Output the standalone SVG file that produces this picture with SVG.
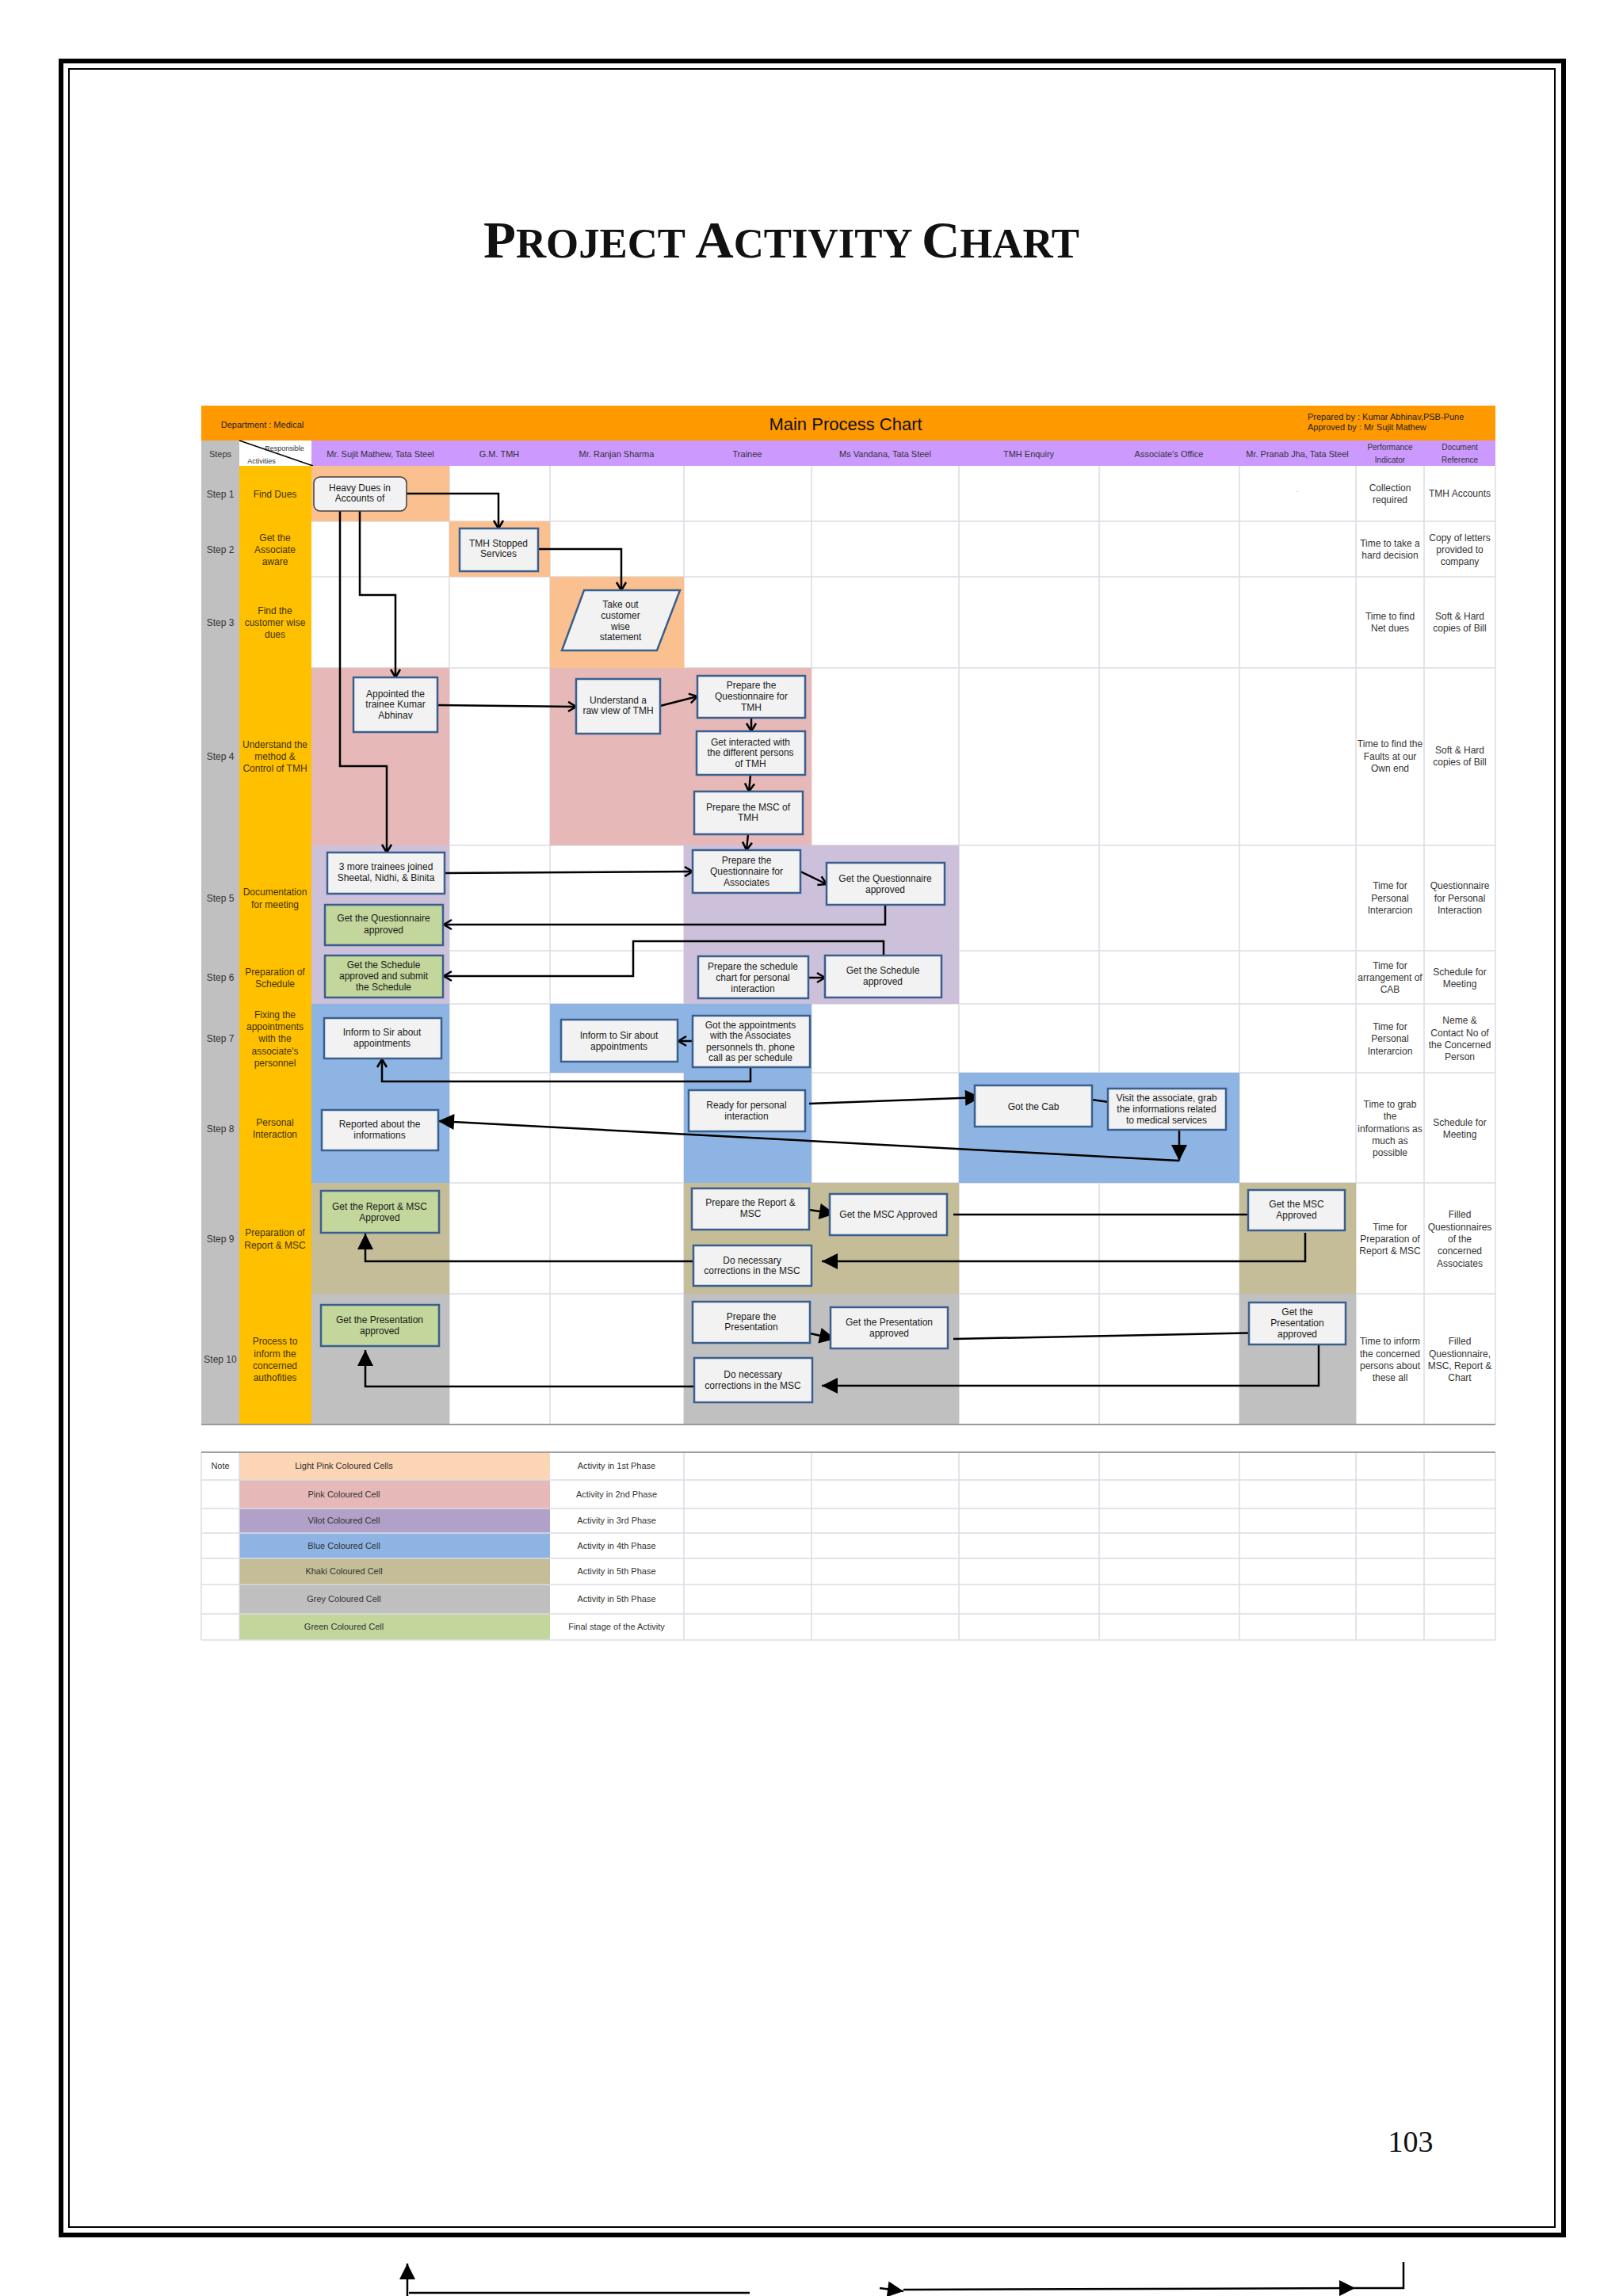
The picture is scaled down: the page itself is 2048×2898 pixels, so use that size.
<svg xmlns="http://www.w3.org/2000/svg" width="2048" height="2898" viewBox="0 0 2048 2898">
<defs>
<style>
text{font-family:"Liberation Sans",Arial,sans-serif}
.n{font-size:12px;fill:#1a1a1a;text-anchor:middle}
.st{font-size:12px;fill:#333;text-anchor:middle}
.ac{font-size:12px;fill:#3f3200;text-anchor:middle}
.rc{font-size:12px;fill:#333;text-anchor:middle}
.hd{font-size:11px;fill:#333;text-anchor:middle}
.sm{font-size:10px;fill:#333;text-anchor:middle}
.lg{font-size:11px;fill:#333;text-anchor:middle}
.box{fill:#F2F2F2;stroke:#3A5F8E;stroke-width:2.5}
.gbox{fill:#C3D69B;stroke:#3A5F8E;stroke-width:2.5}
.conn{fill:none;stroke:#000;stroke-width:2.5}
.grid{stroke:#DCDCE4;stroke-width:1.5;fill:none}
</style>
<marker id="op" markerUnits="userSpaceOnUse" markerWidth="16" markerHeight="16" refX="11" refY="7" orient="auto" overflow="visible">
<path d="M1,1 L11,7 L1,13" fill="none" stroke="#000" stroke-width="2.5"/>
</marker>
<marker id="tri" markerUnits="userSpaceOnUse" markerWidth="22" markerHeight="22" refX="20" refY="10" orient="auto" overflow="visible">
<path d="M0,0 L20,10 L0,20 z" fill="#000"/>
</marker>
</defs>
<rect x="0" y="0" width="2048" height="2898" fill="#fff"/>
<!-- page frame -->
<rect x="77" y="77" width="1896" height="2744" fill="none" stroke="#000" stroke-width="6"/>
<rect x="87" y="87" width="1875" height="2724" fill="none" stroke="#000" stroke-width="2"/>
<!-- title -->
<text x="610" y="325" font-family="Liberation Serif,Times New Roman,serif" font-weight="bold" fill="#111" textLength="752" lengthAdjust="spacingAndGlyphs" style="font-family:'Liberation Serif',serif"><tspan font-size="66">P</tspan><tspan font-size="52">ROJECT </tspan><tspan font-size="66">A</tspan><tspan font-size="52">CTIVITY </tspan><tspan font-size="66">C</tspan><tspan font-size="52">HART</tspan></text>

<!-- header -->
<g id="header">
<rect x="254" y="512" width="1633" height="44" fill="#FF9900"/>
<text x="331" y="540" class="hd" style="fill:#222">Department : Medical</text>
<text x="1067" y="543" style="font-size:22px;fill:#111;text-anchor:middle">Main Process Chart</text>
<text x="1650" y="530" style="font-size:11px;fill:#222">Prepared by : Kumar Abhinav,PSB-Pune</text>
<text x="1650" y="543" style="font-size:11px;fill:#222">Approved by : Mr Sujit Mathew</text>
<rect x="254" y="556" width="1633" height="32" fill="#CC99FF"/>
<rect x="254" y="556" width="48" height="32" fill="#C0C0C0"/>
<rect x="302" y="556" width="91" height="32" fill="#fff"/>
<line x1="302" y1="556" x2="395" y2="588" stroke="#000" stroke-width="1.5"/>
<text x="359" y="569" class="sm" style="font-size:9px">Responsible</text>
<text x="330" y="585" class="sm" style="font-size:9px">Activities</text>
<text x="278" y="577" class="hd">Steps</text>
<text x="480" y="577" class="hd">Mr. Sujit Mathew, Tata Steel</text>
<text x="630" y="577" class="hd">G.M. TMH</text>
<text x="778" y="577" class="hd">Mr. Ranjan Sharma</text>
<text x="943" y="577" class="hd">Trainee</text>
<text x="1117" y="577" class="hd">Ms Vandana, Tata Steel</text>
<text x="1298" y="577" class="hd">TMH Enquiry</text>
<text x="1475" y="577" class="hd">Associate's Office</text>
<text x="1637" y="577" class="hd">Mr. Pranab Jha, Tata Steel</text>
<text x="1754" y="568" class="sm">Performance</text>
<text x="1754" y="584" class="sm">Indicator</text>
<text x="1842" y="568" class="sm">Document</text>
<text x="1842" y="584" class="sm">Reference</text>
</g>

<!-- grid -->
<g id="grid">
<rect x="393" y="588" width="1494" height="1210" fill="#fff"/>
<path class="grid" d="M567,588V1798M694,588V1798M863,588V1798M1024,588V1798M1210,588V1798M1387,588V1798M1564,588V1798M1711,588V1798M1797,588V1798M1887,588V1798"/>
<path class="grid" d="M393,658H1887M393,728H1887M393,843H1887M393,1067H1887M393,1200H1887M393,1267H1887M393,1354H1887M393,1493H1887M393,1633H1887"/>
<rect x="254" y="588" width="48" height="1210" fill="#C0C0C0"/>
<rect x="302" y="588" width="91" height="1210" fill="#FFC000"/>
</g>

<!-- phase blocks -->
<g id="phases">
<rect x="393" y="588" width="174" height="70" fill="#FAC090"/>
<rect x="567" y="658" width="127" height="70" fill="#FAC090"/>
<rect x="694" y="728" width="169" height="115" fill="#FAC090"/>
<rect x="393" y="843" width="174" height="224" fill="#E6B9B8"/>
<rect x="694" y="843" width="330" height="224" fill="#E6B9B8"/>
<rect x="393" y="1067" width="174" height="200" fill="#CCC0DA"/>
<rect x="863" y="1067" width="347" height="200" fill="#CCC0DA"/>
<rect x="393" y="1267" width="174" height="226" fill="#8DB4E2"/>
<rect x="694" y="1267" width="169" height="87" fill="#8DB4E2"/>
<rect x="863" y="1267" width="161" height="226" fill="#8DB4E2"/>
<rect x="1210" y="1354" width="354" height="139" fill="#8DB4E2"/>
<rect x="393" y="1493" width="174" height="140" fill="#C4BD97"/>
<rect x="863" y="1493" width="347" height="140" fill="#C4BD97"/>
<rect x="1564" y="1493" width="147" height="140" fill="#C4BD97"/>
<rect x="393" y="1633" width="174" height="165" fill="#C0C0C0"/>
<rect x="863" y="1633" width="347" height="165" fill="#C0C0C0"/>
<rect x="1564" y="1633" width="147" height="165" fill="#C0C0C0"/>
<line x1="254" y1="1798" x2="1887" y2="1798" stroke="#999" stroke-width="2"/>
</g>

<!-- step labels -->
<g id="steps">
<text x="278" y="628" class="st">Step 1</text>
<text x="278" y="698" class="st">Step 2</text>
<text x="278" y="790" class="st">Step 3</text>
<text x="278" y="959" class="st">Step 4</text>
<text x="278" y="1138" class="st">Step 5</text>
<text x="278" y="1238" class="st">Step 6</text>
<text x="278" y="1315" class="st">Step 7</text>
<text x="278" y="1429" class="st">Step 8</text>
<text x="278" y="1568" class="st">Step 9</text>
<text x="278" y="1720" class="st">Step 10</text>
</g>
<g id="activities">
<text x="347" y="628" class="ac">Find Dues</text>
<text x="347" y="683" class="ac">Get the</text>
<text x="347" y="698" class="ac">Associate</text>
<text x="347" y="713" class="ac">aware</text>
<text x="347" y="775" class="ac">Find the</text>
<text x="347" y="790" class="ac">customer wise</text>
<text x="347" y="805" class="ac">dues</text>
<text x="347" y="944" class="ac">Understand the</text>
<text x="347" y="959" class="ac">method &amp;</text>
<text x="347" y="974" class="ac">Control of  TMH</text>
<text x="347" y="1130" class="ac">Documentation</text>
<text x="347" y="1146" class="ac">for meeting</text>
<text x="347" y="1231" class="ac">Preparation of</text>
<text x="347" y="1246" class="ac">Schedule</text>
<text x="347" y="1285" class="ac">Fixing the</text>
<text x="347" y="1300" class="ac">appointments</text>
<text x="347" y="1315" class="ac">with the</text>
<text x="347" y="1331" class="ac">associate's</text>
<text x="347" y="1346" class="ac">personnel</text>
<text x="347" y="1421" class="ac">Personal</text>
<text x="347" y="1436" class="ac">Interaction</text>
<text x="347" y="1560" class="ac">Preparation of</text>
<text x="347" y="1576" class="ac">Report  &amp; MSC</text>
<text x="347" y="1697" class="ac">Process to</text>
<text x="347" y="1713" class="ac">inform the</text>
<text x="347" y="1728" class="ac">concerned</text>
<text x="347" y="1743" class="ac">authofities</text>
</g>

<!-- performance indicator / document reference -->
<g id="indicators">
<text x="1754" y="620" class="rc">Collection</text>
<text x="1754" y="635" class="rc">required</text>
<text x="1842" y="627" class="rc">TMH Accounts</text>
<text x="1754" y="690" class="rc">Time to take a</text>
<text x="1754" y="705" class="rc">hard decision</text>
<text x="1842" y="683" class="rc">Copy of letters</text>
<text x="1842" y="698" class="rc">provided to</text>
<text x="1842" y="713" class="rc">company</text>
<text x="1754" y="782" class="rc">Time to find</text>
<text x="1754" y="797" class="rc">Net dues</text>
<text x="1842" y="782" class="rc">Soft &amp; Hard</text>
<text x="1842" y="797" class="rc">copies of Bill</text>
<text x="1754" y="943" class="rc">Time to find the</text>
<text x="1754" y="959" class="rc">Faults at our</text>
<text x="1754" y="974" class="rc">Own end</text>
<text x="1842" y="951" class="rc">Soft &amp; Hard</text>
<text x="1842" y="966" class="rc">copies of Bill</text>
<text x="1754" y="1122" class="rc">Time for</text>
<text x="1754" y="1138" class="rc">Personal</text>
<text x="1754" y="1153" class="rc">Interarcion</text>
<text x="1842" y="1122" class="rc">Questionnaire</text>
<text x="1842" y="1138" class="rc">for Personal</text>
<text x="1842" y="1153" class="rc">Interaction</text>
<text x="1754" y="1223" class="rc">Time for</text>
<text x="1754" y="1238" class="rc">arrangement of</text>
<text x="1754" y="1253" class="rc">CAB</text>
<text x="1842" y="1231" class="rc">Schedule for</text>
<text x="1842" y="1246" class="rc">Meeting</text>
<text x="1754" y="1300" class="rc">Time for</text>
<text x="1754" y="1315" class="rc">Personal</text>
<text x="1754" y="1331" class="rc">Interarcion</text>
<text x="1842" y="1292" class="rc">Neme &amp;</text>
<text x="1842" y="1308" class="rc">Contact No of</text>
<text x="1842" y="1323" class="rc">the Concerned</text>
<text x="1842" y="1338" class="rc">Person</text>
<text x="1754" y="1398" class="rc">Time to grab</text>
<text x="1754" y="1413" class="rc">the</text>
<text x="1754" y="1429" class="rc">informations as</text>
<text x="1754" y="1444" class="rc">much as</text>
<text x="1754" y="1459" class="rc">possible</text>
<text x="1842" y="1421" class="rc">Schedule for</text>
<text x="1842" y="1436" class="rc">Meeting</text>
<text x="1754" y="1553" class="rc">Time for</text>
<text x="1754" y="1568" class="rc">Preparation of</text>
<text x="1754" y="1583" class="rc">Report &amp; MSC</text>
<text x="1842" y="1537" class="rc">Filled</text>
<text x="1842" y="1553" class="rc">Questionnaires</text>
<text x="1842" y="1568" class="rc">of the</text>
<text x="1842" y="1583" class="rc">concerned</text>
<text x="1842" y="1599" class="rc">Associates</text>
<text x="1754" y="1697" class="rc">Time to inform</text>
<text x="1754" y="1713" class="rc">the concerned</text>
<text x="1754" y="1728" class="rc">persons about</text>
<text x="1754" y="1743" class="rc">these all</text>
<text x="1842" y="1697" class="rc">Filled</text>
<text x="1842" y="1713" class="rc">Questionnaire,</text>
<text x="1842" y="1728" class="rc">MSC, Report &amp;</text>
<text x="1842" y="1743" class="rc">Chart</text>
<text x="1637" y="621" class="rc" style="font-size:8px;fill:#777">.</text>
</g>

<!-- connectors -->
<g id="connectors">
<path class="conn" d="M513,623H629V667" marker-end="url(#op)"/>
<path class="conn" d="M679,693H784V745" marker-end="url(#op)"/>
<path class="conn" d="M454,645V751H499V855" marker-end="url(#op)"/>
<path class="conn" d="M429,645V967H488V1076" marker-end="url(#op)"/>
<path class="conn" d="M552,890L727,892" marker-end="url(#op)"/>
<path class="conn" d="M833,891L880,879" marker-end="url(#op)"/>
<path class="conn" d="M948,906V923" marker-end="url(#op)"/>
<path class="conn" d="M947,978L945,999" marker-end="url(#op)"/>
<path class="conn" d="M944,1053L942,1073" marker-end="url(#op)"/>
<path class="conn" d="M561,1102L874,1100" marker-end="url(#op)"/>
<path class="conn" d="M1010,1100L1043,1116" marker-end="url(#op)"/>
<path class="conn" d="M1117,1142V1167H560" marker-end="url(#op)"/>
<path class="conn" d="M1115,1206V1188H799V1232H560" marker-end="url(#op)"/>
<path class="conn" d="M1020,1234H1041" marker-end="url(#op)"/>
<path class="conn" d="M874,1314H856" marker-end="url(#op)"/>
<path class="conn" d="M947,1347V1365H482V1337" marker-end="url(#op)"/>
<path class="conn" d="M1021,1393L1238,1385" marker-end="url(#tri)"/>
<path class="conn" d="M1378,1388L1420,1394" marker-end="url(#tri)"/>
<path class="conn" d="M1488,1415V1465" marker-end="url(#tri)"/>
<path class="conn" d="M1488,1465L553,1415" marker-end="url(#tri)"/>
<path class="conn" d="M1021,1527L1054,1532" marker-end="url(#tri)"/>
<path class="conn" d="M1203,1533H1599" marker-end="url(#tri)"/>
<path class="conn" d="M1647,1556V1592H1037" marker-end="url(#tri)"/>
<path class="conn" d="M875,1592H461V1557" marker-end="url(#tri)"/>
<path class="conn" d="M1022,1683L1054,1690" marker-end="url(#tri)"/>
<path class="conn" d="M1203,1690L1599,1682" marker-end="url(#tri)"/>
<path class="conn" d="M1664,1690V1749H1037" marker-end="url(#tri)"/>
<path class="conn" d="M876,1750H461V1704" marker-end="url(#tri)"/>
</g>

<!-- nodes -->
<g id="n-heavy"><rect x="396" y="602" width="117" height="43" rx="8" fill="#F2F2F2" stroke="#404040" stroke-width="1.5"/><text class="n" x="454" y="620">Heavy Dues in</text><text class="n" x="454" y="633">Accounts of</text></g>
<g id="n-tmh-stopped"><rect class="box" x="580" y="667" width="99" height="54"/><text class="n" x="629" y="690">TMH Stopped</text><text class="n" x="629" y="703">Services</text></g>
<g id="n-takeout"><polygon class="box" points="737,745 858,745 829,821 709,821"/><text class="n" x="783" y="767">Take out</text><text class="n" x="783" y="781">customer</text><text class="n" x="783" y="795">wise</text><text class="n" x="783" y="808">statement</text></g>
<g id="n-appointed"><rect class="box" x="446" y="855" width="106" height="69"/><text class="n" x="499" y="880">Appointed the</text><text class="n" x="499" y="893">trainee Kumar</text><text class="n" x="499" y="907">Abhinav</text></g>
<g id="n-understand"><rect class="box" x="727" y="857" width="106" height="69"/><text class="n" x="780" y="888">Understand a</text><text class="n" x="780" y="901">raw view of TMH</text></g>
<g id="n-prepq-tmh"><rect class="box" x="880" y="853" width="136" height="53"/><text class="n" x="948" y="869">Prepare the</text><text class="n" x="948" y="883">Questionnaire for</text><text class="n" x="948" y="897">TMH</text></g>
<g id="n-interact"><rect class="box" x="879" y="923" width="137" height="55"/><text class="n" x="947" y="941">Get interacted with</text><text class="n" x="947" y="954">the different persons</text><text class="n" x="947" y="968">of TMH</text></g>
<g id="n-prep-msc"><rect class="box" x="876" y="999" width="137" height="54"/><text class="n" x="944" y="1023">Prepare  the  MSC of</text><text class="n" x="944" y="1036">TMH</text></g>
<g id="n-prepq-assoc"><rect class="box" x="874" y="1073" width="136" height="54"/><text class="n" x="942" y="1090">Prepare the</text><text class="n" x="942" y="1104">Questionnaire for</text><text class="n" x="942" y="1118">Associates</text></g>
<g id="n-getq-vandana"><rect class="box" x="1043" y="1089" width="149" height="53"/><text class="n" x="1117" y="1113">Get the Questionnaire</text><text class="n" x="1117" y="1127">approved</text></g>
<g id="n-3more"><rect class="box" x="413" y="1076" width="148" height="52"/><text class="n" x="487" y="1098">3 more trainees joined</text><text class="n" x="487" y="1112">Sheetal, Nidhi, &amp; Binita</text></g>
<g id="n-getq-green"><rect class="gbox" x="410" y="1142" width="149" height="51"/><text class="n" x="484" y="1163">Get the Questionnaire</text><text class="n" x="484" y="1178">approved</text></g>
<g id="n-schedule-green"><rect class="gbox" x="410" y="1206" width="149" height="53"/><text class="n" x="484" y="1222">Get the Schedule</text><text class="n" x="484" y="1236">approved and submit</text><text class="n" x="484" y="1250">the Schedule</text></g>
<g id="n-prep-schedule"><rect class="box" x="881" y="1207" width="139" height="53"/><text class="n" x="950" y="1224">Prepare the schedule</text><text class="n" x="950" y="1238">chart for personal</text><text class="n" x="950" y="1252">interaction</text></g>
<g id="n-get-schedule"><rect class="box" x="1041" y="1206" width="147" height="53"/><text class="n" x="1114" y="1229">Get the Schedule</text><text class="n" x="1114" y="1243">approved</text></g>
<g id="n-inform-sujit"><rect class="box" x="409" y="1285" width="148" height="51"/><text class="n" x="482" y="1307">Inform  to Sir about</text><text class="n" x="482" y="1321">appointments</text></g>
<g id="n-inform-ranjan"><rect class="box" x="708" y="1287" width="147" height="53"/><text class="n" x="781" y="1311">Inform  to Sir about</text><text class="n" x="781" y="1325">appointments</text></g>
<g id="n-got-appt"><rect class="box" x="874" y="1282" width="148" height="65"/><text class="n" x="947" y="1298">Got the appointments</text><text class="n" x="947" y="1311">with the Associates</text><text class="n" x="947" y="1326">personnels th. phone</text><text class="n" x="947" y="1339">call as per schedule</text></g>
<g id="n-reported"><rect class="box" x="406" y="1401" width="147" height="51"/><text class="n" x="479" y="1423">Reported  about the</text><text class="n" x="479" y="1437">informations</text></g>
<g id="n-ready"><rect class="box" x="869" y="1376" width="147" height="52"/><text class="n" x="942" y="1399">Ready  for personal</text><text class="n" x="942" y="1413">interaction</text></g>
<g id="n-cab"><rect class="box" x="1230" y="1370" width="148" height="52"/><text class="n" x="1304" y="1401">Got the Cab</text></g>
<g id="n-visit"><rect class="box" x="1398" y="1374" width="149" height="52"/><text class="n" x="1472" y="1390">Visit the associate, grab</text><text class="n" x="1472" y="1404">the informations related</text><text class="n" x="1472" y="1418">to medical services</text></g>
<g id="n-report-green"><rect class="gbox" x="405" y="1503" width="149" height="53"/><text class="n" x="479" y="1527">Get the Report &amp; MSC</text><text class="n" x="479" y="1541">Approved</text></g>
<g id="n-pres-green"><rect class="gbox" x="405" y="1647" width="149" height="52"/><text class="n" x="479" y="1670">Get the Presentation</text><text class="n" x="479" y="1684">approved</text></g>
<g id="n-prep-report"><rect class="box" x="873" y="1500" width="148" height="52"/><text class="n" x="947" y="1522">Prepare the Report &amp;</text><text class="n" x="947" y="1536">MSC</text></g>
<g id="n-msc-vandana"><rect class="box" x="1047" y="1507" width="148" height="52"/><text class="n" x="1121" y="1537">Get the MSC Approved</text></g>
<g id="n-msc-pranab"><rect class="box" x="1575" y="1502" width="122" height="51"/><text class="n" x="1636" y="1524">Get the MSC</text><text class="n" x="1636" y="1538">Approved</text></g>
<g id="n-donec1"><rect class="box" x="875" y="1572" width="149" height="51"/><text class="n" x="949" y="1595">Do necessary</text><text class="n" x="949" y="1608">corrections in the MSC</text></g>
<g id="n-prep-pres"><rect class="box" x="874" y="1643" width="148" height="52"/><text class="n" x="948" y="1666">Prepare the</text><text class="n" x="948" y="1679">Presentation</text></g>
<g id="n-pres-vandana"><rect class="box" x="1048" y="1650" width="148" height="52"/><text class="n" x="1122" y="1673">Get the Presentation</text><text class="n" x="1122" y="1687">approved</text></g>
<g id="n-pres-pranab"><rect class="box" x="1576" y="1644" width="122" height="53"/><text class="n" x="1637" y="1660">Get the</text><text class="n" x="1637" y="1674">Presentation</text><text class="n" x="1637" y="1688">approved</text></g>
<g id="n-donec2"><rect class="box" x="876" y="1714" width="149" height="56"/><text class="n" x="950" y="1739">Do necessary</text><text class="n" x="950" y="1753">corrections in the MSC</text></g>

<!-- legend -->
<g id="legend">
<rect x="302" y="1833" width="392" height="35" fill="#FCD5B4"/>
<rect x="302" y="1868" width="392" height="36" fill="#E6B9B8"/>
<rect x="302" y="1904" width="392" height="31" fill="#B1A0C7"/>
<rect x="302" y="1935" width="392" height="32" fill="#8DB4E2"/>
<rect x="302" y="1967" width="392" height="33" fill="#C4BD97"/>
<rect x="302" y="2000" width="392" height="37" fill="#BFBFBF"/>
<rect x="302" y="2037" width="392" height="33" fill="#C3D69B"/>
<path class="grid" d="M254,1868H1887M254,1904H1887M254,1935H1887M254,1967H1887M254,2000H1887M254,2037H1887M254,2070H1887"/>
<path class="grid" d="M254,1833V2070M302,1833V2070M863,1833V2070M1024,1833V2070M1210,1833V2070M1387,1833V2070M1564,1833V2070M1711,1833V2070M1797,1833V2070M1887,1833V2070"/>
<line x1="254" y1="1833" x2="1887" y2="1833" stroke="#A0A0A0" stroke-width="2"/>
<text x="278" y="1854" class="lg">Note</text>
<text x="434" y="1854" class="lg">Light Pink Coloured Cells</text>
<text x="434" y="1890" class="lg">Pink Coloured Cell</text>
<text x="434" y="1923" class="lg">Vilot Coloured Cell</text>
<text x="434" y="1955" class="lg">Blue Coloured Cell</text>
<text x="434" y="1987" class="lg">Khaki Coloured Cell</text>
<text x="434" y="2022" class="lg">Grey Coloured Cell</text>
<text x="434" y="2057" class="lg">Green Coloured Cell</text>
<text x="778" y="1854" class="lg">Activity in 1st Phase</text>
<text x="778" y="1890" class="lg">Activity in 2nd Phase</text>
<text x="778" y="1923" class="lg">Activity in 3rd Phase</text>
<text x="778" y="1955" class="lg">Activity in 4th Phase</text>
<text x="778" y="1987" class="lg">Activity in 5th Phase</text>
<text x="778" y="2022" class="lg">Activity in 5th Phase</text>
<text x="778" y="2057" class="lg">Final stage of the Activity</text>
</g>

<text x="1780" y="2716" style="font-family:'Liberation Serif',serif;font-size:38px;fill:#111;text-anchor:middle">103</text>

<!-- bottom cut-off connectors -->
<g id="bottom-connectors">
<path class="conn" d="M514,2898V2857" marker-end="url(#tri)"/>
<path class="conn" d="M516,2894H946"/>
<path class="conn" d="M1110,2888L1140,2892" marker-end="url(#tri)"/>
<path class="conn" d="M1140,2890L1710,2888" marker-end="url(#tri)"/>
<path class="conn" d="M1710,2888H1771V2855"/>
</g>
</svg>
